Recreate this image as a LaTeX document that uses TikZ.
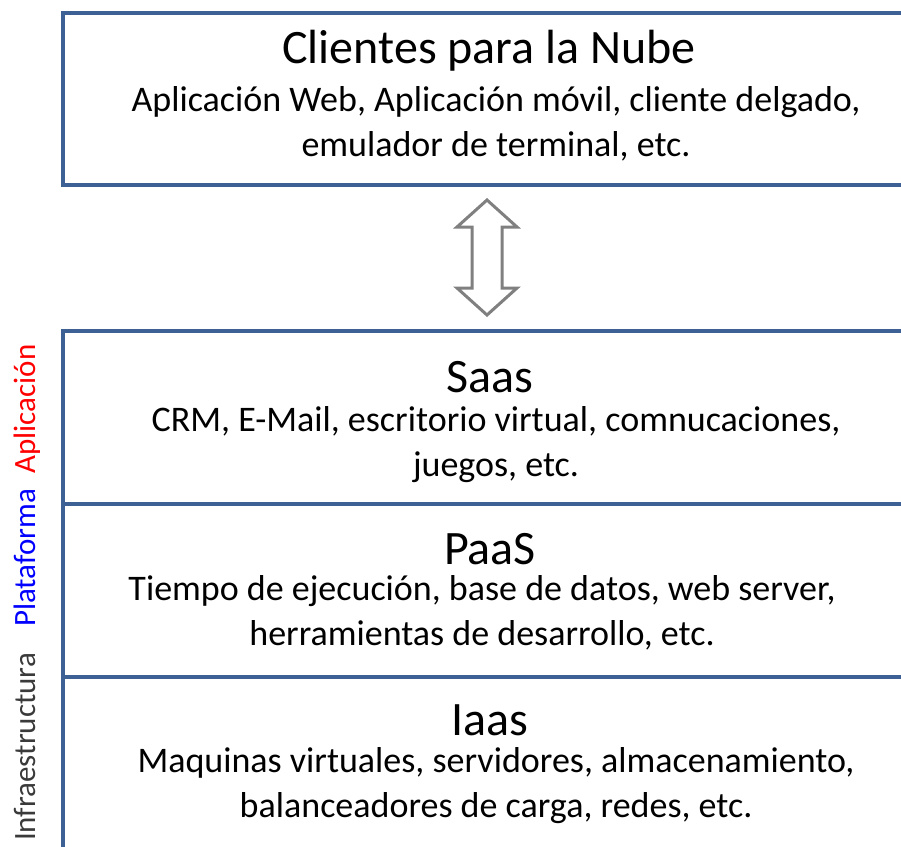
\documentclass[tikz,border=0pt]{standalone}
\usepackage{fontspec}
\setmainfont{Carlito}
\definecolor{boxblue}{HTML}{3D6195}
\definecolor{arrowgray}{HTML}{808080}
\definecolor{infragray}{HTML}{3A3A3A}
\tikzset{
  layer/.style={draw=boxblue, line width=4pt},
  ttl/.style={font=\fontsize{48}{52}\selectfont, inner sep=0pt, anchor=center},
  body/.style={font=\fontsize{36}{45}\selectfont, inner sep=0pt, align=center, anchor=center},
  side/.style={font=\fontsize{31}{34}\selectfont, inner sep=0pt, rotate=90, anchor=base},
}
\begin{document}
\begin{tikzpicture}[x=1pt,y=-1pt]
\useasboundingbox (0,0) rectangle (901,846);
\begin{scope}
\clip (0,0) rectangle (901,846);
\draw[layer] (63,13) rectangle (920,185);
\draw[layer] (63,331) rectangle (920,880);
\draw[layer] (63,504) -- (920,504);
\draw[layer] (63,677) -- (920,677);
\end{scope}
% double arrow
\draw[arrowgray, line width=3pt, fill=white, line join=miter]
  (487,200) -- (517,227) -- (502,227) -- (502,288) -- (517,288) -- (487,315)
  -- (457,288) -- (472,288) -- (472,227) -- (457,227) -- cycle;
% top box
\node[ttl] (clt) at (489,51) {Clientes para la Nube};
\node[body] (clb) at (496,124) {Aplicación Web, Aplicación móvil, cliente delgado,\\emulador de terminal, etc.};
% Saas
\node[ttl] (saas) at (490,377) {Saas};
\node[body] (saasb) at (496,445) {CRM, E-Mail, escritorio virtual, comnucaciones,\\juegos, etc.};
% PaaS
\node[ttl] (paas) at (490,549) {PaaS};
\node[body] (paasb) at (482,613) {Tiempo de ejecución, base de datos, web server,\\herramientas de desarrollo, etc.};
% Iaas
\node[ttl] (iaas) at (490,720) {Iaas};
\node[body] (iaasb) at (496,786) {Maquinas virtuales, servidores, almacenamiento,\\balanceadores de carga, redes, etc.};
% side labels
\node[side, text=infragray] (infra) at (35,747) {Infraestructura};
\node[side, text=blue] (plat) at (35,558) {Plataforma};
\node[side, text=red] (apl) at (35,409) {Aplicación};
\end{tikzpicture}
\end{document}
